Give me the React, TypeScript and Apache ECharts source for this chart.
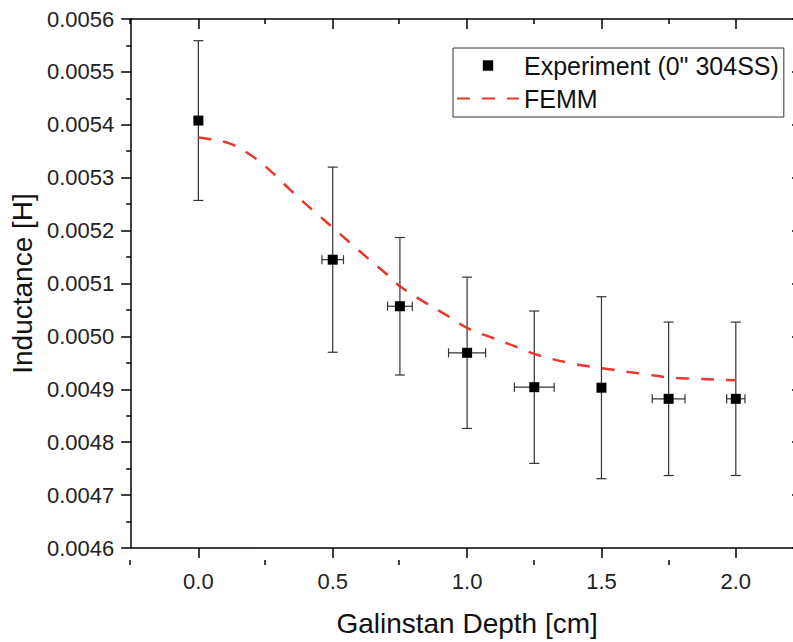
import React, { useEffect, useRef } from "react";
import * as echarts from "echarts";

// ---- data ----
const xMajorTicks = [0, 0.5, 1.0, 1.5, 2.0];
const xMinorTicks = [-0.25, 0.25, 0.75, 1.25, 1.75, 2.25];

const expName = 'Experiment (0" 304SS)';
const expDepth = [0, 0.5, 0.75, 1.0, 1.25, 1.5, 1.75, 2.0];
const expInductance = [0.005408, 0.005145, 0.005057, 0.004969, 0.004904, 0.004903, 0.004882, 0.004882];
const expYErr = [0.000151, 0.000175, 0.00013, 0.000143, 0.000144, 0.000172, 0.000145, 0.000145];
const expXErr = [0, 0.04, 0.046, 0.069, 0.074, 0, 0.061, 0.034];

const femmName = "FEMM";
const femmDepth = [0, 0.04, 0.12, 0.2, 0.27, 0.34, 0.42, 0.5, 0.56, 0.63, 0.7, 0.75, 0.85, 0.93, 1.0, 1.1, 1.19, 1.25, 1.37, 1.5, 1.67, 1.74, 1.84, 1.94, 2.0];
const femmInductance = [0.005376, 0.005373, 0.005364, 0.005341, 0.005312, 0.005278, 0.005241, 0.005206, 0.005179, 0.005148, 0.005118, 0.005095, 0.005062, 0.005038, 0.005016, 0.004996, 0.004979, 0.004967, 0.004951, 0.00494, 0.004928, 0.004923, 0.00492, 0.004918, 0.004917];

const FONT = "'Liberation Sans', Arial, Helvetica, sans-serif";
const AXIS_COLOR = "#000";
const X_MIN = -0.25;
const X_MAX = 2.25;
const Y_MIN = 0.0046;
const Y_MAX = 0.0056;
const Y_STEP = 0.0001;

export default function App() {
  const ref = useRef<HTMLDivElement>(null);

  useEffect(() => {
    if (!ref.current) return;
    const chart = echarts.init(ref.current, null, { renderer: "svg" });

    const gridBox = { left: 130, top: 19, right: 17, bottom: 82 };
    const lineStyle = { color: AXIS_COLOR, width: 1.5 };

    const errData = expDepth.map((d, i) => [d, expInductance[i], expYErr[i], expXErr[i]]);

    const option: any = {
      animation: false,
      backgroundColor: "#fff",
      textStyle: { fontFamily: FONT },
      grid: [
        { ...gridBox, containLabel: false },
        { ...gridBox, containLabel: false },
      ],
      legend: {
        data: [
          { name: expName },
          { name: femmName, itemStyle: { opacity: 0, color: "rgba(0,0,0,0)" } },
        ],
        orient: "vertical",
        left: 453,
        top: 48,
        itemWidth: 62,
        itemHeight: 13,
        itemGap: 8,
        padding: [5, 5, 6, 3],
        borderColor: "#333",
        borderWidth: 1,
        textStyle: { fontSize: 25, color: "#111", fontFamily: FONT },
      },
      xAxis: [
        {
          type: "value",
          gridIndex: 0,
          position: "bottom",
          min: X_MIN,
          max: X_MAX,
          name: "Galinstan Depth [cm]",
          nameLocation: "middle",
          nameGap: 61,
          nameTextStyle: { fontSize: 28, color: "#111", fontFamily: FONT },
          axisLine: { show: true, onZero: false, lineStyle },
          axisTick: { show: true, length: 10, lineStyle, customValues: xMajorTicks },
          axisLabel: {
            show: true,
            customValues: xMajorTicks,
            margin: 22,
            fontSize: 22,
            color: "#222",
            fontFamily: FONT,
            formatter: (v: number) => v.toFixed(1),
          },
          splitLine: { show: false },
        },
        {
          type: "value",
          gridIndex: 0,
          position: "top",
          min: X_MIN,
          max: X_MAX,
          axisLine: { show: true, onZero: false, lineStyle },
          axisTick: { show: true, inside: true, length: 10, lineStyle, customValues: xMajorTicks },
          axisLabel: { show: false },
          splitLine: { show: false },
        },
        {
          type: "value",
          gridIndex: 1,
          position: "bottom",
          min: X_MIN,
          max: X_MAX,
          axisLine: { show: false, onZero: false },
          axisTick: { show: true, length: 5, lineStyle, customValues: xMinorTicks },
          axisLabel: { show: false },
          splitLine: { show: false },
        },
        {
          type: "value",
          gridIndex: 1,
          position: "top",
          min: X_MIN,
          max: X_MAX,
          axisLine: { show: false, onZero: false },
          axisTick: { show: true, inside: true, length: 5, lineStyle, customValues: xMinorTicks },
          axisLabel: { show: false },
          splitLine: { show: false },
        },
      ],
      yAxis: [
        {
          type: "value",
          gridIndex: 0,
          position: "left",
          min: Y_MIN,
          max: Y_MAX,
          interval: Y_STEP,
          name: "Inductance [H]",
          nameLocation: "middle",
          nameGap: 93,
          nameTextStyle: { fontSize: 28, color: "#111", fontFamily: FONT },
          axisLine: { show: true, onZero: false, lineStyle },
          axisTick: { show: true, length: 10, lineStyle },
          minorTick: { show: true, splitNumber: 2, length: 5, lineStyle },
          axisLabel: {
            show: true,
            margin: 17,
            fontSize: 22,
            color: "#222",
            fontFamily: FONT,
            formatter: (v: number) => v.toFixed(4),
          },
          splitLine: { show: false },
          minorSplitLine: { show: false },
        },
        {
          type: "value",
          gridIndex: 0,
          position: "right",
          min: Y_MIN,
          max: Y_MAX,
          interval: Y_STEP,
          axisLine: { show: true, onZero: false, lineStyle },
          axisTick: { show: true, inside: true, length: 11, lineStyle },
          minorTick: { show: true, splitNumber: 2, length: 5, lineStyle },
          axisLabel: { show: false },
          splitLine: { show: false },
        },
        {
          type: "value",
          gridIndex: 1,
          min: Y_MIN,
          max: Y_MAX,
          show: false,
        },
      ],
      series: [
        {
          name: "errorbars",
          type: "custom",
          xAxisIndex: 0,
          yAxisIndex: 0,
          silent: true,
          z: 2,
          encode: { x: 0, y: 1 },
          data: errData,
          renderItem: (params: any, api: any) => {
            const x = api.value(0);
            const y = api.value(1);
            const ey = api.value(2);
            const ex = api.value(3);
            const top = api.coord([x, y + ey]);
            const bot = api.coord([x, y - ey]);
            const st = { stroke: "#333", lineWidth: 1.2 };
            const cap = 5;
            const children: any[] = [
              { type: "line", shape: { x1: top[0], y1: top[1], x2: bot[0], y2: bot[1] }, style: st },
              { type: "line", shape: { x1: top[0] - cap, y1: top[1], x2: top[0] + cap, y2: top[1] }, style: st },
              { type: "line", shape: { x1: bot[0] - cap, y1: bot[1], x2: bot[0] + cap, y2: bot[1] }, style: st },
            ];
            if (ex > 0) {
              const l = api.coord([x - ex, y]);
              const r = api.coord([x + ex, y]);
              const hc = 4.5;
              children.push(
                { type: "line", shape: { x1: l[0], y1: l[1], x2: r[0], y2: r[1] }, style: st },
                { type: "line", shape: { x1: l[0], y1: l[1] - hc, x2: l[0], y2: l[1] + hc }, style: st },
                { type: "line", shape: { x1: r[0], y1: r[1] - hc, x2: r[0], y2: r[1] + hc }, style: st }
              );
            }
            return { type: "group", children };
          },
        },
        {
          name: femmName,
          type: "line",
          xAxisIndex: 0,
          yAxisIndex: 0,
          z: 3,
          data: femmDepth.map((d, i) => [d, femmInductance[i]]),
          smooth: 0.4,
          symbol: "none",
          showSymbol: false,
          lineStyle: { color: "#e8372c", width: 2.5, type: [13, 12] },
          itemStyle: { color: "#e8372c" },
        },
        {
          name: expName,
          type: "line",
          xAxisIndex: 0,
          yAxisIndex: 0,
          z: 4,
          data: expDepth.map((d, i) => [d, expInductance[i]]),
          symbol: "rect",
          symbolSize: 10,
          showSymbol: true,
          lineStyle: { width: 0, opacity: 0 },
          itemStyle: { color: "#000" },
        },
      ],
    };

    chart.setOption(option);
    return () => chart.dispose();
  }, []);

  return (
    <div
      style={{
        position: "fixed",
        left: 0,
        top: 0,
        width: 793,
        height: 642,
        overflow: "hidden",
        background: "#fff",
      }}
    >
      <div ref={ref} style={{ width: 820, height: 642 }} />
    </div>
  );
}
